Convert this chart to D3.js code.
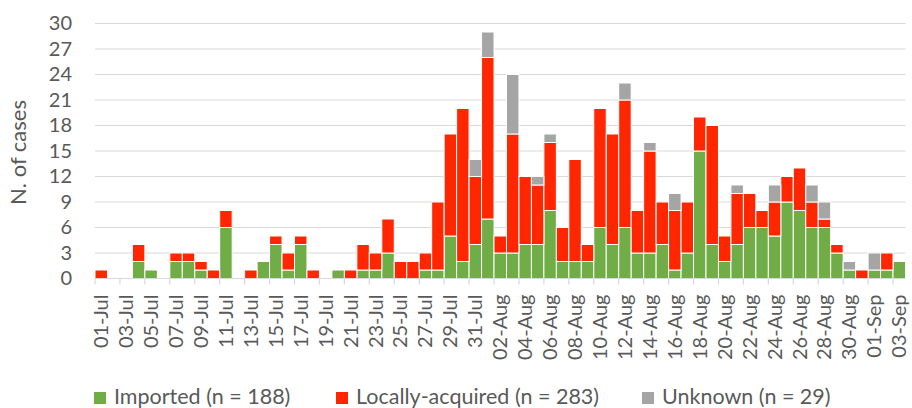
<!DOCTYPE html>
<html><head><meta charset="utf-8">
<script src="https://cdn.jsdelivr.net/npm/d3@7"></script>
<style>
body{margin:0;background:#fff}
svg{display:block}
text{font-family:Lato,"Open Sans",sans-serif;fill:#595959}
</style>
</head><body>
<svg id="chart" width="912" height="408"></svg>
<script>
const dates = ["01-Jul","02-Jul","03-Jul","04-Jul","05-Jul","06-Jul","07-Jul","08-Jul","09-Jul","10-Jul",
"11-Jul","12-Jul","13-Jul","14-Jul","15-Jul","16-Jul","17-Jul","18-Jul","19-Jul","20-Jul",
"21-Jul","22-Jul","23-Jul","24-Jul","25-Jul","26-Jul","27-Jul","28-Jul","29-Jul","30-Jul","31-Jul",
"01-Aug","02-Aug","03-Aug","04-Aug","05-Aug","06-Aug","07-Aug","08-Aug","09-Aug","10-Aug",
"11-Aug","12-Aug","13-Aug","14-Aug","15-Aug","16-Aug","17-Aug","18-Aug","19-Aug","20-Aug",
"21-Aug","22-Aug","23-Aug","24-Aug","25-Aug","26-Aug","27-Aug","28-Aug","29-Aug","30-Aug","31-Aug",
"01-Sep","02-Sep","03-Sep"];
const imported = [0,0,0,2,1,0,2,2,1,0, 6,0,0,2,4,1,4,0,0,1, 0,1,1,3,0,0,1,1,5,2,4,
7,3,3,4,4,8,2,2,2,6, 4,6,3,3,4,1,3,15,4,2, 4,6,6,5,9,8,6,6,3,1,0, 1,1,2];
const local = [1,0,0,2,0,0,1,1,1,1, 2,0,1,0,1,2,1,1,0,0, 1,3,2,4,2,2,2,8,12,18,8,
19,2,14,8,7,8,4,12,2,14, 13,15,5,12,5,7,6,4,14,3, 6,4,2,4,3,5,3,1,1,0,1, 0,2,0];
const unknown = [0,0,0,0,0,0,0,0,0,0, 0,0,0,0,0,0,0,0,0,0, 0,0,0,0,0,0,0,0,0,0,2,
3,0,7,0,1,1,0,0,0,0, 0,2,0,1,0,2,0,0,0,0, 1,0,0,2,0,0,2,2,0,1,0, 2,0,0];
const yTicks = [0,3,6,9,12,15,18,21,24,27,30];
const seriesKeys = ["imported","local","unknown"];
const seriesLabels = ["Imported (n = 188)","Locally-acquired (n = 283)","Unknown (n = 29)"];
const seriesColors = ["#70AD47","#FF2600","#A5A5A5"];
const yTitle = "N. of cases";

const svg = d3.select("#chart");
const x0 = 95, x1 = 905.5, yBottom = 278.5, yTop = 23.5;

const rows = dates.map((d,i)=>({date:d, imported:imported[i], local:local[i], unknown:unknown[i]}));
const x = d3.scaleBand().domain(dates).range([x0,x1]).paddingInner(0).paddingOuter(0);
const y = d3.scaleLinear().domain([0,30]).range([yBottom,yTop]);

// gridlines
svg.append("g").selectAll("line").data(yTicks.filter(t=>t>0)).join("line")
  .attr("x1",x0).attr("x2",x1)
  .attr("y1",d=>y(d)).attr("y2",d=>y(d))
  .attr("stroke","#D9D9D9").attr("stroke-width",1.2);

// y axis labels
const yAxis = d3.axisLeft(y).tickValues(yTicks).tickSize(0).tickPadding(0);
const gy = svg.append("g").attr("transform","translate(72,0)").call(yAxis);
gy.select(".domain").remove();
gy.selectAll("text").attr("font-size","20px").style("font-family","Lato,sans-serif").attr("fill","#595959");

// bars
const stack = d3.stack().keys(seriesKeys)(rows);
svg.append("g").selectAll("g").data(stack).join("g")
  .attr("fill",(d,i)=>seriesColors[i])
  .selectAll("rect").data(d=>d.filter(s=>s[1]-s[0]>0)).join("rect")
  .attr("x",d=>x(d.data.date))
  .attr("width",x.bandwidth())
  .attr("y",d=>y(d[1]))
  .attr("height",d=>y(d[0])-y(d[1]))
  .attr("stroke","#fff").attr("stroke-width",1);

// x axis
const gx = svg.append("g").attr("transform",`translate(0,${yBottom})`);
gx.append("line").attr("x1",x0).attr("x2",x1).attr("y1",0).attr("y2",0).attr("stroke","#D9D9D9").attr("stroke-width",1.2);
gx.selectAll("line.tk").data(dates.filter((d,i)=>i%2===0)).join("line").attr("class","tk")
  .attr("x1",d=>x(d)).attr("x2",d=>x(d)).attr("y1",0).attr("y2",6)
  .attr("stroke","#D9D9D9").attr("stroke-width",1.2);
gx.selectAll("text").data(dates.filter((d,i)=>i%2===0)).join("text")
  .attr("transform",d=>`translate(${x(d)+x.bandwidth()/2},16) rotate(-90)`)
  .attr("text-anchor","end").attr("dy","0.35em")
  .attr("font-size","20px").text(d=>d);

// y title
svg.append("text").attr("transform","translate(18,152.5) rotate(-90)")
  .attr("text-anchor","middle").attr("dy","0.35em").attr("font-size","22px").text(yTitle);

// legend
const legendX = [94,336,642];
const lg = svg.append("g");
seriesLabels.forEach((lab,i)=>{
  lg.append("rect").attr("x",legendX[i]).attr("y",392).attr("width",12).attr("height",12).attr("fill",seriesColors[i]);
  lg.append("text").attr("x",legendX[i]+20).attr("y",403.5).attr("font-size","21.5px").text(lab);
});
</script>
</body></html>
